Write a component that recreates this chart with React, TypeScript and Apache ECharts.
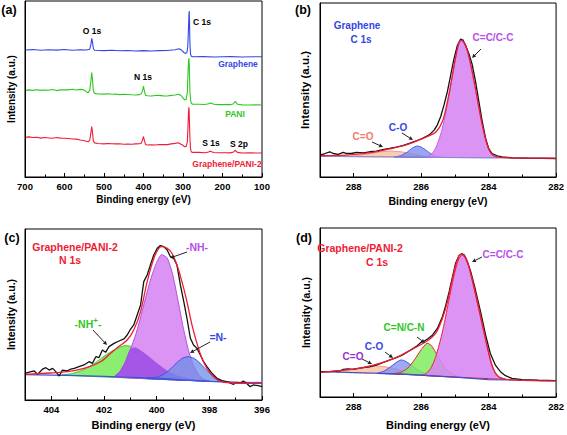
import React, { useEffect, useRef } from 'react';
import * as echarts from 'echarts';

const FONT = '"Liberation Sans", Arial, sans-serif';

// ---------- (a) survey spectra: [binding energy (eV), intensity] ----------
const surveyGraphene = [[700,72.2],[680,72.4],[660,72.0],[640,72.3],[620,72.1],[600,72.4],[580,72.0],[560,72.3],[545,72.2],[536,72.6],[533,75.5],[531,78.8],[529,76.5],[527,73.0],[524,72.0],[500,71.8],[480,72.0],[460,71.7],[440,71.9],[420,71.6],[400,71.8],[380,71.6],[360,71.8],[340,71.9],[320,72.3],[310,72.9],[303,72.0],[297,70.6],[293,70.2],[290,70.8],[288,74.0],[286.5,82],[285,92],[284.3,94.3],[283.5,88],[282.5,76],[281,70],[279,68.6],[275,68.3],[250,68.4],[220,68.2],[200,68.3],[180,68.4],[150,68.2],[120,68.3],[100,68.3]];
const surveyPani = [[700,49.1],[690,49.5],[680,49.2],[670,49.6],[660,49.2],[650,49.4],[640,49.3],[630,49.7],[620,49.1],[610,49.5],[600,49.6],[590,49.5],[580,49.9],[570,49.4],[560,49.8],[552,49.6],[545,48.5],[540,47.9],[536,49.5],[533,55],[531,59.3],[529,55],[527,49],[524,47.5],[515,47.2],[500,47.1],[490,47.3],[480,47.0],[470,47.2],[460,46.8],[450,47.0],[440,46.9],[430,46.7],[420,46.6],[410,46.8],[405,47.5],[402,49.5],[400,51.7],[398,49.0],[395,46.5],[390,46.2],[380,46.0],[370,46.3],[360,46.4],[350,46.1],[340,46.0],[330,46.4],[320,46.6],[312,47.0],[305,46.3],[300,45.0],[296,43.8],[292,44.0],[289,48],[287.5,58],[286,66],[285,67.4],[284.2,64],[283.5,58],[282.5,49],[281,44],[279,41.8],[275,41.3],[260,41.3],[245,41.2],[235,41.6],[232,42.0],[228,41.9],[222,41.3],[210,41.1],[195,41.2],[180,41.1],[172,41.6],[168,43.0],[165,42.2],[162,41.3],[150,41.0],[130,40.9],[115,41.0],[100,40.9]];
const surveyComposite = [[700,22.5],[690,22.8],[680,22.4],[670,22.6],[660,22.1],[650,22.4],[640,22.2],[630,22.0],[620,22.4],[610,22.1],[600,22.0],[590,21.9],[580,21.6],[570,21.5],[560,21.0],[552,20.7],[545,20.3],[540,20.0],[536,21.0],[533,25.5],[531,28.6],[529,25.0],[527,20.5],[524,19.4],[515,19.0],[500,18.8],[490,19.0],[480,18.9],[470,18.8],[460,18.9],[450,18.6],[440,18.7],[430,18.6],[420,18.8],[410,18.9],[405,19.3],[402,21.5],[400,23.0],[398,21.0],[395,18.5],[390,18.2],[380,18.3],[370,18.2],[360,18.5],[350,18.4],[340,18.4],[330,18.8],[320,19.1],[312,19.5],[305,18.6],[300,18.0],[296,17.2],[292,17.4],[289,20],[287.5,28],[286,37],[285,39.6],[284.2,36],[283.5,30],[282.5,22],[281,16.3],[279,14.2],[275,14.0],[260,14.0],[245,13.8],[235,14.2],[232,14.6],[228,14.4],[222,13.9],[210,13.8],[195,13.8],[180,13.7],[172,14.2],[168,15.2],[165,14.5],[162,14.0],[150,13.6],[130,13.7],[115,13.6],[100,13.6]];

// ---------- (b) Graphene C 1s ----------
const bRaw = [[289.0,12.6],[288.85,13.5],[288.71,14.5],[288.61,13.5],[288.46,13.0],[288.31,14.1],[288.21,13.5],[288.07,13.5],[287.92,14.1],[287.72,13.9],[287.53,14.5],[287.33,14.9],[287.14,15.7],[286.94,16.4],[286.74,17.2],[286.55,18.0],[286.35,19.3],[286.15,20.7],[285.96,22.2],[285.76,24.2],[285.61,27.1],[285.52,30.0],[285.42,34.8],[285.32,41.6],[285.22,49.3],[285.12,59.0],[285.03,67.7],[284.93,75.4],[284.83,79.3],[284.76,78.7],[284.68,75.4],[284.58,70.6],[284.49,64.8],[284.39,55.1],[284.29,43.5],[284.19,31.9],[284.09,22.2],[284.0,16.4],[283.9,13.5],[283.75,12.2],[283.6,11.6],[283.31,11.0],[282.82,10.8],[282.0,10.6]];
const bFit = [[289.0,12.2],[288.21,12.6],[287.43,14.1],[286.94,16.1],[286.45,18.4],[286.06,21.3],[285.76,23.8],[285.57,25.7],[285.37,31.9],[285.22,43.5],[285.07,59.0],[284.98,68.7],[284.88,77.4],[284.82,78.7],[284.73,77.4],[284.63,72.5],[284.49,60.9],[284.34,45.5],[284.19,30.0],[284.04,18.4],[283.9,13.0],[283.7,11.4],[283.31,11.0],[282.0,10.8]];
const bBackground = [[289,11.9],[287,11.6],[286,11.4],[285,11.2],[284,11.0],[282,10.8]];
const bCC = [[285.9,11.3],[285.8,11.8],[285.7,13],[285.6,15.5],[285.5,20],[285.4,26],[285.3,34],[285.2,44],[285.1,55],[285.0,66],[284.9,75],[284.82,78.3],[284.7,76.5],[284.6,70.5],[284.5,61.5],[284.4,51.5],[284.3,41],[284.2,31],[284.1,23],[284.0,16.5],[283.9,13],[283.8,11.6],[283.7,11.1]];
const bCO = [[286.8,11.5],[286.6,12.3],[286.4,14.5],[286.25,16.8],[286.12,17.8],[286.0,17.2],[285.85,15.3],[285.7,13.2],[285.55,12.0],[285.4,11.4],[285.25,11.2]];
const bCdO = [[288.3,11.7],[288.0,12.1],[287.6,13.2],[287.2,14.4],[286.9,14.9],[286.6,14.5],[286.3,13.4],[286.0,12.1],[285.7,11.5],[285.5,11.3]];

// ---------- (c) Graphene/PANI-2 N 1s ----------
const cRaw = [[405.0,15.6],[404.77,16.6],[404.65,17.0],[404.52,15.0],[404.33,18.1],[404.21,18.9],[404.08,17.5],[403.95,18.5],[403.83,16.6],[403.7,14.0],[403.58,17.5],[403.39,17.0],[403.26,18.1],[403.13,18.5],[402.95,19.5],[402.76,20.5],[402.57,22.4],[402.44,21.4],[402.31,25.3],[402.19,24.8],[402.06,29.2],[401.94,27.9],[401.81,31.2],[401.62,33.1],[401.43,34.5],[401.24,35.7],[401.12,38.0],[400.99,41.5],[400.87,43.9],[400.74,49.7],[400.61,55.6],[400.49,69.2],[400.36,73.1],[400.24,78.9],[400.11,84.8],[399.98,88.7],[399.86,90.3],[399.73,89.7],[399.6,87.7],[399.48,83.8],[399.35,82.8],[399.23,78.9],[399.1,67.3],[398.97,57.5],[398.85,47.8],[398.72,36.1],[398.6,32.2],[398.47,30.2],[398.34,26.3],[398.22,22.4],[398.09,19.5],[397.9,15.6],[397.71,12.7],[397.52,11.3],[397.34,10.7],[397.08,9.2],[396.96,10.3],[396.83,9.7],[396.71,11.1],[396.58,9.7],[396.45,7.8],[396.33,8.8],[396.14,8.4],[396.0,7.8]];
const cFit = [[405,15.0],[404.02,15.8],[403.39,16.6],[402.76,18.5],[402.13,22.4],[401.75,27.3],[401.5,30.6],[401.12,35.1],[400.87,40.9],[400.61,51.7],[400.36,69.2],[400.11,82.8],[399.92,88.7],[399.79,89.7],[399.6,88.7],[399.42,85.8],[399.23,78.9],[399.04,69.2],[398.85,57.5],[398.66,43.9],[398.47,33.1],[398.28,24.4],[398.09,18.5],[397.84,13.6],[397.59,11.1],[397.21,10.1],[396.0,9.7]];
const cBackground = [[405,14.8],[403,14.2],[402,13.8],[401,13.3],[400,12.8],[399,11.8],[398,10.9],[397,10.4],[396,10.2]];
const cNH = [[401.6,13.6],[401.4,16.5],[401.2,22],[401.0,29.5],[400.8,38],[400.6,49],[400.4,61],[400.2,72],[400.0,80.5],[399.82,85],[399.6,83],[399.4,74],[399.2,59],[399.0,43],[398.8,29.5],[398.6,20],[398.4,14.5],[398.2,12],[398.0,11.0]];
const cNHplus = [[403.6,14.6],[403.2,15.5],[402.8,17.5],[402.4,21],[402.0,25.5],[401.6,29.5],[401.2,31.8],[400.8,30.5],[400.4,26.5],[400.0,21.5],[399.6,17],[399.2,14],[398.8,12.5],[398.4,11.6],[398.0,11.0]];
const cNimine = [[400.4,12.6],[400.0,13.3],[399.8,14.5],[399.6,16.5],[399.4,19.3],[399.2,22.3],[399.0,24.6],[398.8,25.3],[398.6,24.5],[398.4,22.2],[398.2,19],[398.0,15.8],[397.8,13.3],[397.6,11.6],[397.4,10.7],[397.2,10.4]];
// where -NH- and -NH+- overlap: -NH- rising edge, then -NH+- falling edge
const cOverlap = [...cNH.filter((p) => p[0] >= 401.0), ...cNHplus.filter((p) => p[0] <= 400.8)];

// ---------- (d) Graphene/PANI-2 C 1s ----------
const dRaw = [[289,15.0],[288.71,15.0],[288.41,15.4],[288.31,16.4],[288.17,16.6],[288.02,16.4],[287.72,17.4],[287.53,17.8],[287.33,18.9],[287.14,20.3],[286.94,21.9],[286.74,23.3],[286.55,24.9],[286.35,27.4],[286.15,29.8],[286.01,32.3],[285.91,33.1],[285.81,34.3],[285.66,36.7],[285.52,40.6],[285.37,47.5],[285.27,54.4],[285.17,62.3],[285.07,71.2],[284.98,79.1],[284.88,83.6],[284.8,84.8],[284.72,84.0],[284.63,80.1],[284.53,74.2],[284.39,63.3],[284.24,50.5],[284.09,36.7],[283.95,25.8],[283.8,18.9],[283.65,15.0],[283.5,12.6],[283.31,11.0],[283.01,10.3],[282.52,9.9],[282,9.7]];
const dFit = [[289,14.6],[288.21,16.0],[287.72,17.4],[287.23,19.9],[286.74,23.3],[286.25,28.4],[285.86,32.7],[285.57,37.7],[285.37,46.5],[285.22,56.4],[285.07,70.2],[284.93,81.1],[284.82,84.4],[284.72,83.6],[284.6,78.1],[284.47,68.2],[284.31,54.4],[284.16,40.6],[284.01,26.8],[283.87,17.0],[283.7,12.0],[283.41,10.3],[282,9.5]];
const dBackground = [[289,15],[287.5,14.2],[286.5,13.5],[286,13],[285.5,12.4],[285,11.8],[284.5,11],[284,10.3],[283,9.9],[282,9.7]];
const dCC = [[286.0,12.8],[285.9,13.3],[285.8,14.8],[285.7,17.5],[285.6,22],[285.5,28.5],[285.4,36],[285.3,45],[285.2,55],[285.1,65],[285.0,74],[284.9,81],[284.8,84],[284.7,82.5],[284.6,78],[284.5,70],[284.4,61.5],[284.3,52.5],[284.2,43.5],[284.1,35],[284.0,26.5],[283.9,19],[283.8,14],[283.7,11.8],[283.5,10.5]];
const dCN = [[286.8,13.8],[286.6,14.6],[286.4,17],[286.2,22],[286.0,28],[285.83,31.8],[285.7,30.5],[285.6,27.5],[285.5,24],[285.4,20.5],[285.3,17.2],[285.1,13.8],[284.9,12.2],[284.7,11.5]];
const dCO = [[287.3,14.0],[287.1,15.3],[286.9,18],[286.7,21],[286.6,21.9],[286.5,21.5],[286.3,19],[286.1,16],[285.9,14.2],[285.7,13.0]];
const dCdO = [[288.5,14.7],[288.2,15.8],[287.9,17],[287.6,18.1],[287.4,18.5],[287.1,18],[286.8,16.8],[286.5,15],[286.2,13.4]];

// ---------- axis settings ----------
const xRanges = [[100, 700, 100], [282, 289, 2], [396, 405, 2], [282, 289, 2]];
const showEdgeLabel = [true, false, false, false];
const panelLetters = ['(a)', '(b)', '(c)', '(d)'];

const RED = '#ee1c35';
const BLUE = '#3347e6';
const GREEN = '#2ec71f';
const VIOLET = '#b84ee8';
const BLACK = '#111';
const VIOLET_FILL = 'rgba(215,135,243,0.9)';

const grids = [
  { left: 25, top: 1, width: 237, height: 176 },
  { left: 320, top: 3, width: 238, height: 174 },
  { left: 25, top: 229, width: 237, height: 171 },
  { left: 320, top: 228, width: 237, height: 169 },
];

const line = (idx: number, data: number[][], color: string, width = 1.2, smooth: boolean | number = false) => ({
  type: 'line', xAxisIndex: idx, yAxisIndex: idx, data, symbol: 'none', smooth, silent: true,
  lineStyle: { color, width }, z: 5,
});

const fill = (idx: number, pts: number[][], fillColor: string, stroke: string, lw = 1) => ({
  type: 'custom', xAxisIndex: idx, yAxisIndex: idx, data: [pts[0]], silent: true, z: 3,
  renderItem: (_p: any, api: any) => ({
    type: 'polygon',
    shape: { points: pts.map((p) => api.coord(p)), smooth: 0.2 },
    style: { fill: fillColor, stroke, lineWidth: lw },
  }),
});

const txt = (x: number, y: number, text: string, color: string, size: number, extra: any = {}) => ({
  type: 'text', x, y, z: 100, silent: true,
  style: { text, fill: color, fontSize: size, fontWeight: 'bold', fontFamily: FONT, align: 'center', verticalAlign: 'middle', ...extra },
});

const arrow = (x1: number, y1: number, x2: number, y2: number) => {
  const a = Math.atan2(y2 - y1, x2 - x1);
  const L = 4, W = 2;
  const bx = x2 - L * Math.cos(a), by = y2 - L * Math.sin(a);
  return [
    { type: 'line', z: 100, silent: true, shape: { x1, y1, x2: bx, y2: by }, style: { stroke: '#222', lineWidth: 1 } },
    { type: 'polygon', z: 100, silent: true, shape: { points: [[x2, y2], [bx + W * Math.sin(a), by - W * Math.cos(a)], [bx - W * Math.sin(a), by + W * Math.cos(a)]] }, style: { fill: '#222' } },
  ];
};

const xTitleSizes = [10, 10.5, 11, 11];
const xTitleGaps = [17, 18, 19, 22];
const yTitleSizes = [10, 11.5, 10.5, 10.5];

const option: any = {
  animation: false,
  backgroundColor: '#fff',
  textStyle: { fontFamily: FONT },
  grid: grids.map((g) => ({ ...g, show: true, borderColor: '#000', borderWidth: 1, backgroundColor: 'transparent' })),
  xAxis: xRanges.map(([min, max, interval], i) => ({
    type: 'value', gridIndex: i, min, max, interval, inverse: true, z: 10,
    axisLine: { show: true, lineStyle: { color: '#000', width: 1 } },
    axisTick: { show: true, inside: true, length: 4, lineStyle: { color: '#000' } },
    minorTick: { show: true, splitNumber: 2, length: 2.5, lineStyle: { color: '#000' } },
    axisLabel: { color: '#000', fontWeight: 'bold', fontSize: 9.5, fontFamily: FONT, margin: 4, showMaxLabel: showEdgeLabel[i], showMinLabel: true },
    splitLine: { show: false },
    name: 'Binding energy (eV)', nameLocation: 'middle', nameGap: xTitleGaps[i],
    nameTextStyle: { color: '#000', fontWeight: 'bold', fontSize: xTitleSizes[i], fontFamily: FONT },
  })),
  yAxis: grids.map((_g, i) => ({
    type: 'value', gridIndex: i, min: 0, max: 100, z: 10,
    axisLine: { show: true, lineStyle: { color: '#000', width: 1 } },
    axisTick: { show: false }, axisLabel: { show: false }, splitLine: { show: false },
    name: 'Intensity (a.u.)', nameLocation: 'middle', nameGap: 9,
    nameTextStyle: { color: '#000', fontWeight: 'bold', fontSize: yTitleSizes[i], fontFamily: FONT },
  })),
  series: [
    // (a)
    line(0, surveyGraphene, BLUE, 1.1),
    line(0, surveyPani, GREEN, 1.1),
    line(0, surveyComposite, RED, 1.1),
    // (b)
    fill(1, bCdO, 'rgba(247,196,170,0.85)', '#f29a80'),
    fill(1, bCO, 'rgba(120,135,238,0.75)', '#4d5fe0'),
    fill(1, bCC, VIOLET_FILL, '#c060e8'),
    line(1, bBackground, '#7d8fd8', 1),
    line(1, bRaw, BLACK, 1.3),
    line(1, bFit, RED, 1.3, 0.3),
    // (c)
    fill(2, cNHplus, 'rgba(128,236,96,0.9)', '#40c830'),
    fill(2, cNH, VIOLET_FILL, '#b050e0'),
    fill(2, cOverlap, '#a456e6', '#9a48e0', 0.5),
    fill(2, cNimine, 'rgba(110,140,232,0.75)', '#3c55dd'),
    line(2, cBackground, '#3c55dd', 1.2),
    line(2, cRaw, BLACK, 1.3),
    line(2, cFit, RED, 1.3, 0.3),
    // (d)
    fill(3, dCdO, 'rgba(247,196,170,0.85)', '#f29a80'),
    fill(3, dCO, 'rgba(130,140,238,0.75)', '#4050e0'),
    fill(3, dCN, 'rgba(128,236,96,0.85)', RED),
    fill(3, dCC, VIOLET_FILL, RED),
    line(3, dBackground, '#3c4fcc', 1.2),
    line(3, dRaw, BLACK, 1.3),
    line(3, dFit, RED, 1.3, 0.3),
  ],
  graphic: [
    txt(9, 10, panelLetters[0], '#000', 12.5),
    txt(303, 10, panelLetters[1], '#000', 12.5),
    txt(12, 238, panelLetters[2], '#000', 12.5),
    txt(304, 238, panelLetters[3], '#000', 12.5),
    // (a) labels
    txt(92, 31, 'O 1s', '#000', 8.5),
    txt(202, 22, 'C 1s', '#000', 8.5),
    txt(143, 77, 'N 1s', '#000', 8.5),
    txt(211, 143, 'S 1s', '#000', 8.5),
    txt(239, 144, 'S 2p', '#000', 8.5),
    txt(238, 64, 'Graphene', BLUE, 8.5),
    txt(235, 114, 'PANI', GREEN, 8.5),
    txt(227, 164, 'Graphene/PANI-2', RED, 8.5),
    // (b) labels
    txt(357, 25, 'Graphene', BLUE, 10),
    txt(361, 39, 'C 1s', BLUE, 10),
    txt(493, 37, 'C=C/C-C', VIOLET, 10),
    txt(398, 127, 'C-O', BLUE, 10),
    txt(363, 136, 'C=O', '#f27a6e', 10),
    ...arrow(481, 49, 472, 58),
    ...arrow(402, 133, 413, 140),
    ...arrow(372, 142, 383, 147),
    // (c) labels
    txt(75, 247, 'Graphene/PANI-2', RED, 10.5),
    txt(70, 260, 'N 1s', RED, 10.5),
    txt(197, 247, '-NH-', VIOLET, 10.5),
    txt(88, 324, '-NH{s|+}-', GREEN, 10.5, { rich: { s: { fontSize: 8, fontWeight: 'bold', fill: GREEN, fontFamily: FONT, padding: [0, 0, 8, 0] } } }),
    txt(218, 337, '=N-', BLUE, 10.5),
    ...arrow(187, 252, 170, 258),
    ...arrow(93, 330, 107, 345),
    ...arrow(210, 342, 190, 353),
    // (d) labels
    txt(360, 248, 'Graphene/PANI-2', RED, 10.5),
    txt(377, 262, 'C 1s', RED, 10.5),
    txt(503, 254, 'C=C/C-C', VIOLET, 10),
    txt(404, 327, 'C=N/C-N', GREEN, 10),
    txt(374, 346, 'C-O', BLUE, 10),
    txt(353, 356, 'C=O', '#9b30d0', 10),
    ...arrow(482, 257, 472, 262),
    ...arrow(417, 337, 425, 343),
    ...arrow(385, 352, 393, 358),
    ...arrow(362, 359, 372, 364),
  ],
};

export default function App() {
  const ref = useRef<HTMLDivElement>(null);
  useEffect(() => {
    const chart = echarts.init(ref.current as HTMLDivElement, null, { renderer: 'svg' });
    chart.setOption(option);
    return () => chart.dispose();
  }, []);
  return <div ref={ref} style={{ position: 'absolute', left: 0, top: 0, width: 567, height: 435, background: '#fff' }} />;
}
